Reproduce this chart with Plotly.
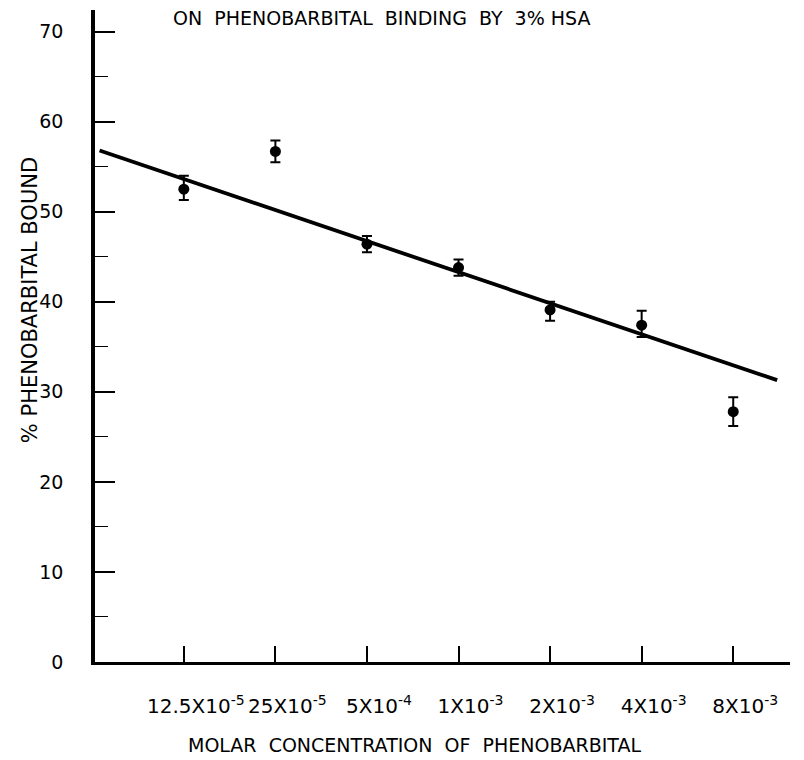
import plotly.graph_objects as go

categories = ["12.5X10<sup>-5</sup>", "25X10<sup>-5</sup>", "5X10<sup>-4</sup>", "1X10<sup>-3</sup>",
              "2X10<sup>-3</sup>", "4X10<sup>-3</sup>", "8X10<sup>-3</sup>"]
pct_bound = [52.5, 56.7, 46.4, 43.8, 39.1, 37.4, 27.8]
err_plus = [1.5, 1.2, 0.9, 0.9, 0.9, 1.6, 1.6]
err_minus = [1.2, 1.2, 0.9, 0.9, 1.2, 1.3, 1.6]
fit_x = [-0.92, 6.48]
fit_y = [56.8, 31.3]
y_ticks = [0, 10, 20, 30, 40, 50, 60, 70]
y_minor = [5, 15, 25, 35, 45, 55, 65]

idx = list(range(len(categories)))
FONT = "DejaVu Sans"

fig = go.Figure()
fig.add_trace(go.Scatter(x=fit_x, y=fit_y, mode="lines",
                         line=dict(color="black", width=3.8), showlegend=False))
fig.add_trace(go.Scatter(x=idx, y=pct_bound, mode="markers",
                         marker=dict(color="black", size=11),
                         error_y=dict(type="data", symmetric=False, array=err_plus,
                                      arrayminus=err_minus, color="black",
                                      thickness=2, width=5),
                         showlegend=False))

fig.update_layout(
    width=804, height=760,
    margin=dict(l=95, r=14, t=10, b=98),
    paper_bgcolor="white", plot_bgcolor="white",
    font=dict(family=FONT, color="black"),
    xaxis=dict(range=[-0.97, 6.62], tickmode="array", tickvals=idx, ticktext=categories,
               ticks="inside", ticklen=16, tickwidth=1.5, tickcolor="black",
               showline=True, linecolor="black", linewidth=3, showgrid=False,
               zeroline=False, tickfont=dict(size=20, family=FONT),
               ticklabelstandoff=24, ticklabelshift=12),
    yaxis=dict(range=[0, 72.4], tickmode="array", tickvals=y_ticks,
               ticks="inside", ticklen=20, tickwidth=1.5, tickcolor="black",
               minor=dict(ticks="inside", ticklen=13, tickwidth=1.2, tickcolor="black",
                          tickmode="array", tickvals=y_minor),
               showline=True, linecolor="black", linewidth=3.5, showgrid=False,
               zeroline=False, tickfont=dict(size=19, family=FONT),
               ticklabelstandoff=24),
    annotations=[
        dict(text="ON  PHENOBARBITAL  BINDING  BY  3% HSA", xref="paper", yref="paper",
             x=0.413, y=0.988, xanchor="center", yanchor="middle", showarrow=False,
             font=dict(size=19, family=FONT)),
        dict(text="% PHENOBARBITAL BOUND", xref="paper", yref="paper",
             x=-0.0935, y=0.555, xanchor="center", yanchor="middle", showarrow=False,
             textangle=-90, font=dict(size=21, family=FONT)),
        dict(text="MOLAR  CONCENTRATION  OF  PHENOBARBITAL", xref="paper", yref="paper",
             x=0.459, y=-0.127, xanchor="center", yanchor="middle", showarrow=False,
             font=dict(size=19, family=FONT)),
    ],
)

fig.write_html("out.html")
